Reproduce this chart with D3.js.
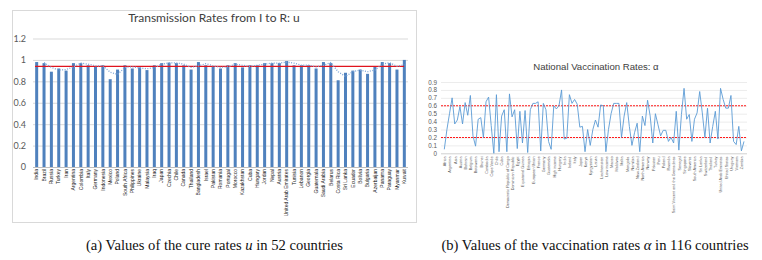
<!DOCTYPE html>
<html>
<head>
<meta charset="utf-8">
<script src="https://cdn.jsdelivr.net/npm/d3@7"></script>
<style>
  body { margin: 0; background: #fff; }
  svg { display: block; }
  .axis path { display: none; }
</style>
</head>
<body>
<script>
// Left chart: cure rates u
const countriesU = ['India', 'Brazil', 'Russia', 'Turkey', 'Iran', 'Argentina', 'Colombia', 'Italy',
  'Germany', 'Indonesia', 'Mexico', 'Poland', 'South Africa', 'Philippines', 'Ukraine', 'Malaysia',
  'Iraq', 'Japan', 'Czechia', 'Chile', 'Canada', 'Thailand', 'Bangladesh', 'Israel', 'Pakistan',
  'Romania', 'Portugal', 'Morocco', 'Kazakhstan', 'Cuba', 'Hungary', 'Jordan', 'Nepal', 'Austria',
  'United Arab Emirates', 'Tunisia', 'Lebanon', 'Georgia', 'Guatemala', 'Saudi Arabia', 'Belarus',
  'Costa Rica', 'Sri Lanka', 'Ecuador', 'Bolivia', 'Bulgaria', 'Azerbaijan', 'Panama', 'Paraguay',
  'Myanmar', 'Kuwait']
const valuesU = [0.98, 0.97, 0.89, 0.92, 0.90, 0.97, 0.97, 0.95, 0.94, 0.95, 0.82, 0.91, 0.95, 0.92,
  0.93, 0.905, 0.95, 0.97, 0.975, 0.97, 0.95, 0.91, 0.98, 0.95, 0.94, 0.92, 0.95, 0.97, 0.93, 0.95,
  0.95, 0.97, 0.97, 0.97, 0.99, 0.95, 0.95, 0.95, 0.92, 0.98, 0.97, 0.81, 0.88, 0.90, 0.91, 0.87,
  0.94, 0.98, 0.97, 0.91, 1.0]
const meanU = 0.94
const ticksU = [0, 0.2, 0.4, 0.6, 0.8, 1, 1.2]

// Right chart: vaccination rates alpha
const countriesA = ['Africa', 'Albania', 'Argentina', 'Armenia', 'Asia', 'Australia', 'Austria',
  'Azerbaijan', 'Bahrain', 'Bangladesh', 'Belgium', 'Bolivia', 'Botswana', 'Brazil', 'Brunei',
  'Bulgaria', 'Cambodia', 'Canada', 'Cape Verde', 'Chad', 'Chile', 'China', 'Cuba', 'Czechia',
  'Democratic Republic of Congo', 'Denmark', 'Dominican Republic', 'Ecuador', 'Egypt', 'El Salvador',
  'Equatorial Guinea', 'Estonia', 'Ethiopia', 'Europe', 'European Union', 'Finland', 'France',
  'Georgia', 'Germany', 'Greece', 'Guatemala', 'Guinea', 'High income', 'Hong Kong', 'Hungary',
  'Iceland', 'India', 'Indonesia', 'Ireland', 'Israel', 'Italy', 'Jamaica', 'Japan', 'Kazakhstan',
  'Kenya', 'Kuwait', 'Kyrgyzstan', 'Laos', 'Latvia', 'Lebanon', 'Liechtenstein', 'Lithuania',
  'Low income', 'Luxembourg', 'Macao', 'Malaysia', 'Maldives', 'Mali', 'Malta', 'Mexico', 'Mongolia',
  'Morocco', 'Namibia', 'Nepal', 'New Zealand', 'Nigeria', 'North America', 'North Macedonia',
  'Norway', 'Oman', 'Pakistan', 'Panama', 'Peru', 'Philippines', 'Poland', 'Qatar', 'Rwanda',
  'Saint Lucia', 'Saint Vincent and the Grenadines', 'Saudi Arabia', 'Senegal', 'Serbia', 'Singapore',
  'Slovakia', 'Slovenia', 'South Africa', 'South America', 'Spain', 'Sri Lanka', 'Sweden',
  'Switzerland', 'Taiwan', 'Thailand', 'Tunisia', 'Turkey', 'Ukraine', 'United Arab Emirates',
  'United Kingdom', 'United States', 'Upper middle income', 'Uruguay', 'Uzbekistan', 'Vietnam',
  'World', 'Zambia', 'Zimbabwe']
const valuesA = [0.05, 0.30, 0.50, 0.70, 0.37, 0.42, 0.59, 0.37, 0.64, 0.48,
  0.73, 0.22, 0.09, 0.43, 0.45, 0.20, 0.65, 0.71, 0.35, 0.00,
  0.74, 0.02, 0.47, 0.55, 0.02, 0.75, 0.46, 0.55, 0.06, 0.53,
  0.13, 0.54, 0.01, 0.55, 0.63, 0.63, 0.65, 0.03, 0.63, 0.55,
  0.15, 0.05, 0.60, 0.56, 0.60, 0.80, 0.18, 0.19, 0.74, 0.63,
  0.68, 0.62, 0.33, 0.34, 0.02, 0.30, 0.10, 0.30, 0.42, 0.33,
  0.61, 0.60, 0.02, 0.30, 0.50, 0.63, 0.63, 0.63, 0.20, 0.47,
  0.64, 0.34, 0.10, 0.26, 0.38, 0.02, 0.47, 0.35, 0.67, 0.47,
  0.13, 0.50, 0.36, 0.22, 0.29, 0.29, 0.15, 0.20, 0.13, 0.53,
  0.04, 0.49, 0.82, 0.43, 0.49, 0.15, 0.43, 0.51, 0.78, 0.51,
  0.20, 0.57, 0.13, 0.34, 0.53, 0.18, 0.82, 0.68, 0.57, 0.57,
  0.73, 0.15, 0.11, 0.34, 0.03, 0.15]
const thresholdsA = [0.6, 0.2]
const ticksA = [0, 0.1, 0.2, 0.3, 0.4, 0.5, 0.6, 0.7, 0.8, 0.9]

const width = 762, height = 260

let svg = d3.select('body')
  .append('svg')
  .attr('width', width)
  .attr('height', height)

// ---------- left chart ----------
const leftFont = 'Lato, "Open Sans", sans-serif'

svg.append('rect')
  .attr('x', 12.5).attr('y', 10.5)
  .attr('width', 404).attr('height', 212)
  .attr('fill', 'none')
  .attr('stroke', '#d9d9d9')

svg.append('text')
  .attr('x', 214).attr('y', 22)
  .attr('text-anchor', 'middle')
  .attr('font-family', leftFont)
  .attr('font-size', 12)
  .attr('fill', '#404040')
  .text('Transmission Rates from I to R: u')

let xU = d3.scaleBand()
  .domain(countriesU)
  .range([33, 408])

let yU = d3.scaleLinear()
  .domain([0, 1.2])
  .range([167, 38.5])

svg.append('g')
  .attr('class', 'axis')
  .attr('transform', 'translate(33,0)')
  .call(d3.axisLeft(yU)
    .tickValues(ticksU)
    .tickSize(-375)
    .tickPadding(7)
    .tickFormat(d => d))
  .call(g => g.selectAll('line').attr('stroke', (d) => d === 0 ? '#bfbfbf' : '#d9d9d9'))
  .call(g => g.selectAll('text')
    .attr('font-family', leftFont)
    .attr('font-size', 9)
    .attr('fill', '#595959'))

svg.selectAll('rect.bar')
  .data(valuesU)
  .enter()
  .append('rect')
  .attr('class', 'bar')
  .attr('x', (d, i) => xU(countriesU[i]) + xU.bandwidth() / 2 - 1.5)
  .attr('y', d => yU(d))
  .attr('width', 3)
  .attr('height', d => yU(0) - yU(d))
  .attr('fill', '#4f81bd')

// red mean line
svg.append('line')
  .attr('x1', xU.range()[0] + 2).attr('x2', xU.range()[1] - 4)
  .attr('y1', yU(meanU)).attr('y2', yU(meanU))
  .attr('stroke', '#e0141e')
  .attr('stroke-width', 1.4)

// 2-period moving average trendline (dotted)
let avgLine = d3.line()
  .x((d, i) => xU(countriesU[i + 1]) + xU.bandwidth() / 2)
  .y(d => yU(d))
let movAvg = valuesU.slice(1).map((v, i) => (v + valuesU[i]) / 2)
svg.append('path')
  .datum(movAvg)
  .attr('d', avgLine)
  .attr('fill', 'none')
  .attr('stroke', '#7ba4d6')
  .attr('stroke-width', 1.3)
  .attr('stroke-dasharray', '1,1.5')

svg.append('g')
  .attr('class', 'axis')
  .attr('transform', 'translate(0,168)')
  .call(d3.axisBottom(xU).tickSize(0).tickPadding(0))
  .call(g => g.selectAll('text')
    .attr('font-family', '"Liberation Sans", Arial, sans-serif')
    .attr('font-size', 5)
    .attr('fill', '#1a1a1a')
    .attr('text-anchor', 'end')
    .attr('dy', '0.35em')
    .attr('transform', 'rotate(-90) translate(-1,0)'))

// ---------- right chart ----------
const rightFont = '"Liberation Sans", Arial, sans-serif'

svg.append('text')
  .attr('x', 596).attr('y', 70)
  .attr('text-anchor', 'middle')
  .attr('font-family', rightFont)
  .attr('font-size', 9.6)
  .attr('fill', '#404040')
  .text('National Vaccination Rates: α')

let xA = d3.scalePoint()
  .domain(countriesA)
  .range([443, 745.3])
  .padding(0.5)

let yA = d3.scaleLinear()
  .domain([0, 0.9])
  .range([153.3, 82])

svg.append('g')
  .attr('class', 'axis')
  .attr('transform', 'translate(441,0)')
  .call(d3.axisLeft(yA)
    .tickValues(ticksA)
    .tickSize(-306)
    .tickPadding(4)
    .tickFormat(d => d))
  .call(g => g.selectAll('line').attr('stroke', d => d === 0 ? '#d0d0d0' : '#ececec'))
  .call(g => g.selectAll('text')
    .attr('font-family', rightFont)
    .attr('font-size', 6.3)
    .attr('fill', '#595959'))

svg.selectAll('line.threshold')
  .data(thresholdsA)
  .enter()
  .append('line')
  .attr('class', 'threshold')
  .attr('x1', 441).attr('x2', 746)
  .attr('y1', d => yA(d)).attr('y2', d => yA(d))
  .attr('stroke', '#ff1a1a')
  .attr('stroke-width', 1.1)
  .attr('stroke-dasharray', '2,1')

let lineA = d3.line()
  .x((d, i) => xA(countriesA[i]))
  .y(d => yA(d))

svg.append('path')
  .datum(valuesA)
  .attr('d', lineA)
  .attr('fill', 'none')
  .attr('stroke', '#5b9bd5')
  .attr('stroke-width', 0.9)

svg.append('g')
  .attr('class', 'axis')
  .attr('transform', 'translate(0,155.5)')
  .call(d3.axisBottom(xA)
    .tickSize(0)
    .tickPadding(0)
    .tickFormat((d, i) => i % 2 === 0 ? d : ''))
  .call(g => g.selectAll('text')
    .attr('font-family', rightFont)
    .attr('font-size', 3.8)
    .attr('fill', '#595959')
    .attr('text-anchor', 'end')
    .attr('dy', '0.35em')
    .attr('transform', 'rotate(-90) translate(-1,0)'))

// ---------- captions ----------
const capFont = '"Liberation Serif", "Times New Roman", serif'

let capA = svg.append('text')
  .attr('x', 214.5).attr('y', 250)
  .attr('text-anchor', 'middle')
  .attr('font-family', capFont)
  .attr('font-size', 14.6)
  .attr('fill', '#111')
capA.append('tspan').text('(a)  Values of the cure rates ')
capA.append('tspan').attr('font-style', 'italic').text('u')
capA.append('tspan').text(' in 52 countries')

let capB = svg.append('text')
  .attr('x', 595).attr('y', 250)
  .attr('text-anchor', 'middle')
  .attr('font-family', capFont)
  .attr('font-size', 14.6)
  .attr('fill', '#111')
capB.append('tspan').text('(b)  Values of the vaccination rates ')
capB.append('tspan').attr('font-style', 'italic').text('α')
capB.append('tspan').text(' in 116 countries')
</script>
</body>
</html>
